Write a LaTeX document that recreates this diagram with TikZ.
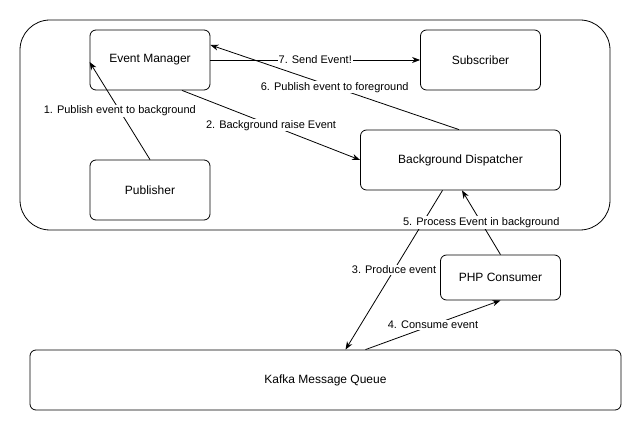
\documentclass[tikz,border=0pt]{standalone}
\usepackage{fontspec}
\setmainfont{Liberation Sans}
\usetikzlibrary{arrows.meta}

\begin{document}
\begin{tikzpicture}[x=1pt,y=1pt,
  box/.style={draw,line width=0.8pt,rounded corners=6pt,fill=white,
    minimum width=120pt,minimum height=60pt,inner sep=0pt,
    font=\fontsize{12}{14}\selectfont},
  flow/.style={draw,line width=0.8pt,-{Stealth[length=8pt,width=6pt,inset=2.5pt]}},
  lbl/.style={fill=white,inner sep=1pt,font=\fontsize{11}{13}\selectfont}]
\path[use as bounding box,fill=white] (0,0) rectangle (641,431);

% container
\draw[line width=0.8pt,rounded corners=30pt] ( 20,201) rectangle (610,411);

% boxes
\node[box] (em) at (150,371) {Event Manager};
\node[box] (pub) at (150,241) {Publisher};
\node[box] (sub) at (480.5,371) {Subscriber};
\node[box,minimum width=200pt] (bd) at (460.5,271) {Background Dispatcher};
\node[box,minimum height=45pt] (php) at (500.5,153.5) {PHP Consumer};
\node[box,minimum width=591pt] (kafka) at (325.5,51) {Kafka Message Queue};

% connectors
\draw[flow] (pub.north) -- node[lbl] {1. Publish event to background} ([yshift=-2]em.west);
\draw[flow] ([xshift=32]em.south) -- node[lbl] {2. Background raise Event} (bd.west);
\draw[flow] ([xshift=-18]bd.south) -- node[lbl] {3. Produce event} ([xshift=20]kafka.north);
\draw[flow] ([xshift=40]kafka.north) -- node[lbl] {4. Consume event} (php.south);
\draw[flow] (php.north) -- node[lbl] {5. Process Event in background} ([xshift=1.5]bd.south);
\draw[flow] ([xshift=-1.5]bd.north) -- node[lbl] {6. Publish event to foreground} ([yshift=15]em.east);
\draw[flow] (em.east) -- node[lbl] {7. Send Event!} (sub.west);
\end{tikzpicture}
\end{document}
